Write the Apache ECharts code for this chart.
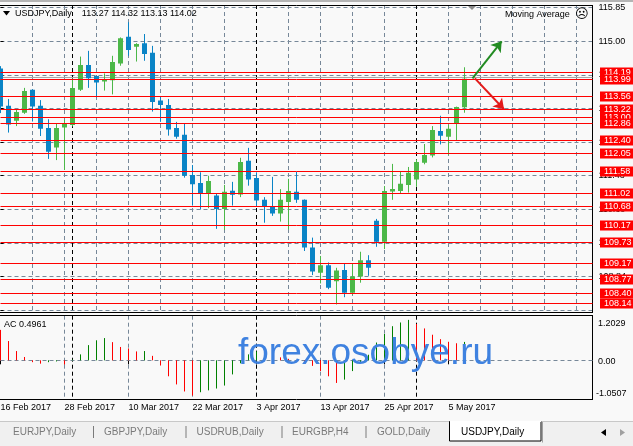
<!DOCTYPE html>
<html><head><meta charset="utf-8">
<script src="https://cdn.jsdelivr.net/npm/echarts@6/dist/echarts.min.js"></script>
<style>html,body{margin:0;padding:0;background:#f9f9f9;overflow:hidden}#c{width:633px;height:446px}</style>
</head><body><div id="c"></div>
<script>
// ---------- data ----------
const dateTickIdx = [0, 8, 16, 24, 32, 40, 48, 56];
const dateTickLabels = ['16 Feb 2017','28 Feb 2017','10 Mar 2017','22 Mar 2017','3 Apr 2017','13 Apr 2017','25 Apr 2017','5 May 2017'];
const opens  = [114.29,113.31,112.92,113.13,113.73,113.31,112.73,112.22,112.74,112.81,113.73,114.38,114.09,113.95,113.98,114.42,115.12,114.86,114.95,114.70,113.45,113.33,112.73,112.55,111.50,111.29,111.02,110.96,110.61,111.09,110.99,111.87,111.42,110.85,110.69,110.49,110.79,111.06,110.85,109.60,108.94,109.14,108.72,109.01,108.42,108.84,109.27,110.30,109.75,111.07,111.08,111.24,111.38,111.82,112.01,112.65,112.50,112.85,113.27];
const highs  = [114.35,113.49,113.22,113.78,113.74,113.46,112.96,112.84,112.94,114.03,114.60,114.75,114.10,114.16,114.62,115.10,115.50,114.95,115.19,114.88,113.55,113.49,112.89,112.85,111.76,111.57,111.48,111.02,111.24,111.32,111.95,112.21,111.57,110.92,111.45,111.13,111.40,111.58,110.86,109.86,109.38,109.21,109.07,109.19,109.19,109.49,109.40,110.35,111.21,111.79,111.60,111.71,111.91,112.31,112.78,113.05,112.81,113.29,114.32];
const lows   = [113.12,112.61,112.78,113.10,112.90,112.52,111.92,111.89,111.63,112.77,113.70,113.78,113.53,113.71,113.61,114.36,114.62,114.47,114.49,113.16,112.89,112.53,112.45,111.43,110.70,110.60,110.63,110.09,110.06,110.70,110.92,111.22,110.67,110.25,110.43,110.28,110.08,110.77,109.51,108.88,108.66,108.51,108.11,108.30,108.36,108.68,108.86,109.62,109.56,110.85,111.02,111.04,111.19,111.78,111.96,112.30,112.02,112.39,113.13];
const closes = [113.29,112.82,113.15,113.70,113.29,112.71,112.11,112.73,112.84,113.78,114.38,114.03,113.92,113.99,114.46,115.08,114.77,114.93,114.67,113.41,113.33,112.69,112.50,111.48,111.26,111.00,111.34,110.61,111.06,110.98,111.84,111.38,110.83,110.68,110.49,110.85,111.08,110.85,109.60,108.97,109.14,108.55,109.00,108.42,108.84,109.27,109.07,109.75,111.08,111.13,111.27,111.56,111.84,112.02,112.68,112.53,112.71,113.28,114.02];
const acValues = [0.82,0.52,0.25,0.09,-0.05,-0.09,-0.05,-0.03,-0.11,0.02,0.16,0.41,0.54,0.60,0.49,0.36,0.32,0.24,0.25,0.12,-0.14,-0.43,-0.65,-0.84,-0.95,-0.86,-0.81,-0.76,-0.68,-0.38,-0.08,0.16,0.24,0.28,0.21,0.08,0.04,-0.01,-0.08,-0.15,-0.29,-0.43,-0.61,-0.52,-0.29,-0.05,0.15,0.48,0.71,0.92,1.02,1.09,0.98,0.86,0.69,0.57,0.50,0.46,0.4961];
const levelPrices = [114.19,113.99,113.56,113.22,113.00,112.86,112.40,112.05,111.58,111.02,110.68,110.17,109.73,109.17,108.77,108.40,108.14];
const bidLine = [114.04];
const monthStartIdx = [9, 32, 52];
const arrowUp = [[59.0, 114.03], [62.65, 115.00]];
const arrowDown = [[59.3, 114.03], [62.94, 113.22]];
const priceMin = 107.96, priceMax = 115.95, priceStep = 0.88, priceTopLabel = '115.85';
const acMin = -1.0507, acMax = 1.2029;
const acAxisLabels = ['1.2029', '0.00', '-1.0507'];
const headerText = 'USDJPY,Daily    113.27 114.32 113.13 114.02';
const eaText = 'Moving Average';
const acTitle = 'AC 0.4961';
const tabNames = ['EURJPY,Daily','GBPJPY,Daily','USDRUB,Daily','EURGBP,H4','GOLD,Daily','USDJPY,Daily'];
const watermark = 'forex.osobye.ru';

// ---------- styles ----------
const FONT = '"Liberation Sans", Arial, sans-serif';
const UP = '#4cb848', DOWN = '#0a84c6';
const GRID = '#778899';
const DASH = [4, 3];

const chart = echarts.init(document.getElementById('c'), null, {renderer: 'canvas'});

const candleData = opens.map((o, i) => [i, o, highs[i], lows[i], closes[i]]);
const acData = acValues.map((v, i) => [i, v]);

function candleItem(params, api) {
  const i = api.value(0), o = api.value(1), h = api.value(2), l = api.value(3), c = api.value(4);
  const pH = api.coord([i, h]), pL = api.coord([i, l]), pO = api.coord([i, o]), pC = api.coord([i, c]);
  const x = Math.round(pH[0] - 0.5) + 0.5;
  const col = c >= o ? UP : DOWN;
  const top = Math.min(pO[1], pC[1]), bot = Math.max(pO[1], pC[1]);
  return {type: 'group', children: [
    {type: 'line', shape: {x1: x, y1: pH[1], x2: x, y2: pL[1]}, style: {stroke: col, lineWidth: 1}},
    {type: 'rect', shape: {x: x - 2.5, y: top, width: 5, height: Math.max(1, bot - top)}, style: {fill: col}}
  ]};
}
function levelItem(params, api) {
  const v = api.value(1);
  const cs = params.coordSys;
  const y = Math.round(api.coord([0, v])[1] - 0.5) + 0.5;
  return {type: 'group', children: [
    {type: 'line', shape: {x1: cs.x, y1: y, x2: cs.x + cs.width, y2: y}, style: {stroke: '#ff0000', lineWidth: 1}},
    {type: 'text', x: cs.x + cs.width + 7.5, y: y, style: {text: v.toFixed(2), fill: '#ffffff', backgroundColor: '#ff0000', padding: [1, 8, 0, 4], font: '9px ' + FONT, align: 'left', verticalAlign: 'middle'}}
  ]};
}
function bidItem(params, api) {
  const v = api.value(1);
  const cs = params.coordSys;
  const y = Math.round(api.coord([0, v])[1] - 0.5) + 0.5;
  return {type: 'line', shape: {x1: cs.x, y1: y, x2: cs.x + cs.width, y2: y}, style: {stroke: '#a8a8a8', lineWidth: 1}};
}
function sepItem(params, api) {
  const cs = params.coordSys;
  const x = Math.round(api.coord([api.value(0), api.value(1)])[0] - 0.5) + 0.5;
  return {type: 'line', shape: {x1: x, y1: cs.y, x2: x, y2: cs.y + cs.height}, style: {stroke: '#000', lineWidth: 1, lineDash: DASH}};
}
function zeroItem(params, api) {
  const cs = params.coordSys;
  const y = Math.round(api.coord([0, api.value(1)])[1] - 0.5) + 0.5;
  return {type: 'line', shape: {x1: cs.x, y1: y, x2: cs.x + cs.width, y2: y}, style: {stroke: GRID, lineWidth: 1, lineDash: DASH}};
}
function acItem(params, api) {
  const i = api.value(0), v = api.value(1);
  const prev = i > 0 ? acValues[i - 1] : Infinity;
  const col = v > prev ? '#008000' : '#ff0000';
  const p0 = api.coord([i, 0]), p1 = api.coord([i, v]);
  const x = Math.round(p0[0] - 0.5) + 0.5;
  return {type: 'line', shape: {x1: x, y1: p0[1], x2: x, y2: p1[1]}, style: {stroke: col, lineWidth: 1}};
}

// tabs layout
const tabX = [13, 104, 196.5, 292, 377, 461];
const sepX = [93, 185.5, 281.5, 365.5];
const graphics = [
  {type: 'rect', shape: {x: 0, y: 0, width: 633, height: 2}, style: {fill: '#b4b4b4'}, z: 1},
  {type: 'line', shape: {x1: 0, y1: 5.5, x2: 593, y2: 5.5}, style: {stroke: '#000', lineWidth: 1}, z: 1},
  {type: 'line', shape: {x1: 0, y1: 312.5, x2: 593, y2: 312.5}, style: {stroke: '#000', lineWidth: 1}, z: 1},
  {type: 'line', shape: {x1: 0, y1: 315.5, x2: 593, y2: 315.5}, style: {stroke: '#000', lineWidth: 1}, z: 1},
  {type: 'line', shape: {x1: 0, y1: 399.5, x2: 593, y2: 399.5}, style: {stroke: '#000', lineWidth: 1}, z: 1},
  {type: 'line', shape: {x1: 592.5, y1: 5, x2: 592.5, y2: 313}, style: {stroke: '#000', lineWidth: 1}, z: 1},
  {type: 'line', shape: {x1: 592.5, y1: 315, x2: 592.5, y2: 400}, style: {stroke: '#000', lineWidth: 1}, z: 1},
  // header
  {type: 'polygon', shape: {points: [[3, 11], [10, 11], [6.5, 15.5]]}, style: {fill: '#000'}, z: 50},
  {type: 'text', x: 15, y: 13.5, style: {text: headerText, font: '9px ' + FONT, fill: '#000', verticalAlign: 'middle'}, z: 50},
  {type: 'text', x: 505, y: 15, style: {text: eaText, font: '9px ' + FONT, fill: '#000', verticalAlign: 'middle'}, z: 50},
  {type: 'text', x: 575, y: 14.5, style: {text: '\u2639', font: '13px "DejaVu Sans"', fill: '#000', verticalAlign: 'middle'}, z: 50},
  {type: 'polygon', shape: {points: [[468, 6], [476, 6], [472, 10]]}, style: {fill: '#8a8a8a'}, z: 50},
  // AC panel texts
  {type: 'text', x: 4, y: 325, style: {text: acTitle, font: '9px ' + FONT, fill: '#000', verticalAlign: 'middle'}, z: 50},
  {type: 'text', x: 598, y: 323.5, style: {text: acAxisLabels[0], font: '9px ' + FONT, fill: '#000', verticalAlign: 'middle'}, z: 50},
  {type: 'text', x: 598, y: 361.5, style: {text: acAxisLabels[1], font: '9px ' + FONT, fill: '#000', verticalAlign: 'middle'}, z: 50},
  {type: 'text', x: 596, y: 393.5, style: {text: acAxisLabels[2], font: '9px ' + FONT, fill: '#000', verticalAlign: 'middle'}, z: 50},
  // watermark
  {type: 'text', x: 238, y: 354, style: {text: watermark, font: '37px ' + FONT, fill: '#3f82e0', verticalAlign: 'middle'}, z: 100},
  // tab bar
  {type: 'rect', shape: {x: 0, y: 421, width: 633, height: 25}, style: {fill: '#f0f0f0'}, z: 1},
  {type: 'line', shape: {x1: 0, y1: 421.5, x2: 633, y2: 421.5}, style: {stroke: '#c8c8c8', lineWidth: 1}, z: 2},
  {type: 'rect', shape: {x: 449.5, y: 421.5, width: 91.5, height: 19.5}, style: {fill: '#ffffff', stroke: '#000', lineWidth: 1}, z: 3},
  {type: 'line', shape: {x1: 450, y1: 421.5, x2: 541, y2: 421.5}, style: {stroke: '#ffffff', lineWidth: 1}, z: 4},
  {type: 'line', shape: {x1: 542.5, y1: 422, x2: 542.5, y2: 442.5}, style: {stroke: '#a0a0a0', lineWidth: 1}, z: 3},
  {type: 'polygon', shape: {points: [[606, 429], [606, 436], [601, 432.5]]}, style: {fill: '#000'}, z: 5},
  {type: 'polygon', shape: {points: [[620, 429], [620, 436], [625, 432.5]]}, style: {fill: '#a0a0a0'}, z: 5}
];
tabNames.forEach((t, k) => {
  graphics.push({type: 'text', x: tabX[k], y: 432, style: {text: t, font: '10px ' + FONT, fill: k === tabNames.length - 1 ? '#000' : '#7a7a7a', verticalAlign: 'middle'}, z: 6});
});
sepX.forEach(x => {
  graphics.push({type: 'line', shape: {x1: x + 0.5, y1: 426, x2: x + 0.5, y2: 438}, style: {stroke: '#7a7a7a', lineWidth: 1}, z: 6});
});

const option = {
  animation: false,
  backgroundColor: '#f9f9f9',
  textStyle: {fontFamily: FONT},
  grid: [
    {left: 0.5, width: 592, top: 5, height: 305.2, outerBoundsMode: 'none', containLabel: false},
    {left: 0.5, width: 592, top: 315.7, height: 83.6, outerBoundsMode: 'none', containLabel: false}
  ],
  xAxis: [
    {gridIndex: 0, type: 'value', min: 0, max: 74, interval: 4,
      axisLine: {show: false}, axisTick: {show: false}, axisLabel: {show: false},
      splitLine: {show: true, showMinLine: false, showMaxLine: false, lineStyle: {color: GRID, type: DASH, width: 1}}},
    {gridIndex: 1, type: 'value', min: 0, max: 74, interval: 4,
      axisLine: {show: false},
      axisTick: {show: true, customValues: dateTickIdx, length: 4, inside: false, lineStyle: {color: '#000', width: 1}},
      axisLabel: {show: true, customValues: dateTickIdx, hideOverlap: false, align: 'left', margin: 4,
        fontSize: 9, fontFamily: FONT, color: '#000',
        formatter: v => dateTickLabels[dateTickIdx.indexOf(Math.round(v))] || ''},
      splitLine: {show: true, showMinLine: false, showMaxLine: false, lineStyle: {color: GRID, type: DASH, width: 1}}}
  ],
  yAxis: [
    {gridIndex: 0, type: 'value', position: 'right', min: priceMin, max: priceMax, interval: priceStep,
      axisLine: {show: false},
      axisTick: {show: true, length: 3, lineStyle: {color: '#000'}},
      axisLabel: {show: true, margin: 6, fontSize: 9, fontFamily: FONT, color: '#000', hideOverlap: false,
        formatter: v => {
          if (Math.abs(v - priceMax) < 1e-6 || Math.abs(v - priceMin) < 1e-6) return '';
          if (v > priceMax - priceStep / 2) return priceTopLabel;
          return v.toFixed(2);
        }},
      splitLine: {show: true, showMaxLine: false, lineStyle: {color: GRID, type: DASH, width: 1}}},
    {gridIndex: 1, type: 'value', position: 'right', min: acMin, max: acMax,
      axisLine: {show: false}, axisTick: {show: false}, axisLabel: {show: false}, splitLine: {show: false}}
  ],
  graphic: graphics,
  series: [
    {type: 'custom', name: 'separatorsMain', xAxisIndex: 0, yAxisIndex: 0, renderItem: sepItem,
      data: monthStartIdx.map(i => [i, 112]), encode: {x: 0, y: 1}, z: 3, silent: true},
    {type: 'custom', name: 'separatorsAC', xAxisIndex: 1, yAxisIndex: 1, renderItem: sepItem,
      data: monthStartIdx.map(i => [i, 0]), encode: {x: 0, y: 1}, z: 3, silent: true},
    {type: 'custom', name: 'bid', xAxisIndex: 0, yAxisIndex: 0, renderItem: bidItem,
      data: bidLine.map(v => [0, v]), encode: {x: 0, y: 1}, z: 4, silent: true},
    {type: 'custom', name: 'USDJPY', xAxisIndex: 0, yAxisIndex: 0, renderItem: candleItem,
      data: candleData, encode: {x: 0, y: [1, 2, 3, 4]}, clip: true, z: 5},
    {type: 'custom', name: 'levels', xAxisIndex: 0, yAxisIndex: 0, renderItem: levelItem,
      data: levelPrices.map(v => [0, v]), encode: {x: 0, y: 1}, clip: false, z: 6, silent: true},
    {type: 'lines', name: 'arrowUp', coordinateSystem: 'cartesian2d', xAxisIndex: 0, yAxisIndex: 0,
      symbol: ['none', 'arrow'], symbolSize: [8, 10],
      lineStyle: {color: '#228b22', width: 2, opacity: 1, curveness: 0},
      data: [{coords: arrowUp}], z: 7},
    {type: 'lines', name: 'arrowDown', coordinateSystem: 'cartesian2d', xAxisIndex: 0, yAxisIndex: 0,
      symbol: ['none', 'arrow'], symbolSize: [8, 10],
      lineStyle: {color: '#e31a1a', width: 2, opacity: 1, curveness: 0},
      data: [{coords: arrowDown}], z: 7},
    {type: 'custom', name: 'acZero', xAxisIndex: 1, yAxisIndex: 1, renderItem: zeroItem,
      data: [[0, 0]], encode: {x: 0, y: 1}, z: 3, silent: true},
    {type: 'custom', name: 'AC', xAxisIndex: 1, yAxisIndex: 1, renderItem: acItem,
      data: acData, encode: {x: 0, y: 1}, clip: true, z: 5}
  ]
};
chart.setOption(option);
</script>
</body></html>
